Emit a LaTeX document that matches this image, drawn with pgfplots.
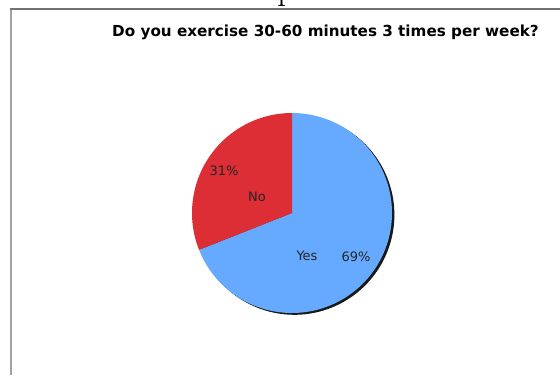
\documentclass[border=0pt]{standalone}
\usepackage{pgfplots}
\pgfplotsset{compat=1.18}
\usepackage{pgfplotstable}
\usepackage{fontspec}
\setmainfont{DejaVu Sans}
\newfontfamily\lmserif{Latin Modern Roman}

\definecolor{pieblue}{HTML}{66AAFF}
\definecolor{piered}{HTML}{DD2D35}
\definecolor{framegray}{HTML}{A0A0A0}

% survey answers, in percent
\pgfplotstableread{
answer share
No     31
Yes    69
}\exercisedata

\begin{document}%
\begin{tikzpicture}[x=1bp,y=1bp]
\pgfplotstablegetelem{0}{share}\of\exercisedata
\pgfmathsetmacro\noshare{\pgfplotsretval}
% slices start at 12 o'clock and run counter-clockwise
\pgfmathsetmacro\noend{90+3.6*\noshare}
\fill[white] (0,0) rectangle (560,375);
% foot of a letter from the heading above
\begin{scope}
\clip (250,367) rectangle (320,375);
\node[anchor=base, inner sep=0pt, font=\lmserif\fontsize{36bp}{40bp}\selectfont] at (287,375.5) {p};
\end{scope}
% panel frame
\draw[framegray, line width=1.6bp] (11,0) -- (11,366);
\draw[black!55, line width=1.2bp] (10.2,366) -- (560,366);
% heading
\node[font=\bfseries\fontsize{15.2bp}{17bp}\selectfont] at (325.5,343) {Do you exercise 30-60 minutes 3 times per week?};
\begin{axis}[
  at={(292,162)}, anchor=center,
  scale only axis, width=200bp, height=200bp,
  xmin=-1, xmax=1, ymin=-1, ymax=1,
  hide axis, clip=false,
]
% drop shadow
\addplot[fill=black!90, draw=none, domain=0:360, samples=180]
  ({0.024+cos(x)}, {-0.018+sin(x)}) -- cycle;
% Yes
\addplot[fill=pieblue, draw=none, domain=\noend:450, samples=150]
  ({cos(x)}, {sin(x)}) -- (0,0) -- cycle;
% No
\addplot[fill=piered, draw=none, domain=90:\noend, samples=80]
  ({cos(x)}, {sin(x)}) -- (0,0) -- cycle;
\node[font=\fontsize{13bp}{15bp}\selectfont, text=black!85] at (-0.68,0.42) {31\%};
\node[font=\fontsize{13bp}{15bp}\selectfont, text=black!85] at (-0.35,0.16) {No};
\node[font=\fontsize{13bp}{15bp}\selectfont, text=black!85] at (0.15,-0.43) {Yes};
\node[font=\fontsize{13bp}{15bp}\selectfont, text=black!85] at (0.64,-0.44) {69\%};
\end{axis}
\pgfresetboundingbox
\useasboundingbox (0,0) rectangle (560,375);
\end{tikzpicture}%
\end{document}
